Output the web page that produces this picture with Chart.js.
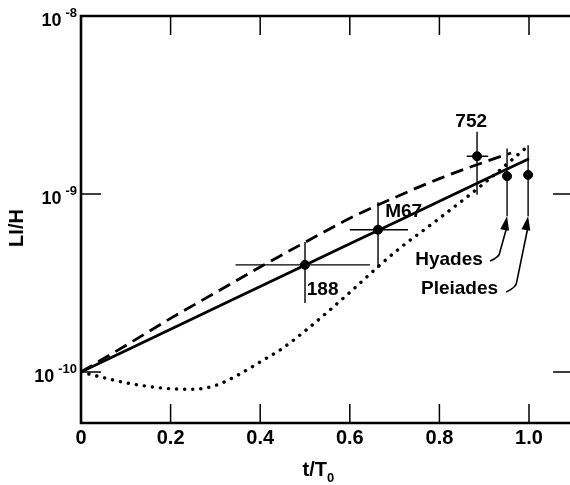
<!DOCTYPE html>
<html>
<head>
<meta charset="utf-8">
<script src="https://cdn.jsdelivr.net/npm/chart.js@4.4.0/dist/chart.umd.min.js"></script>
<style>
  html, body { margin: 0; padding: 0; background: #fff; }
  canvas { display: block; }
</style>
</head>
<body>
<canvas id="chart" width="570" height="485"></canvas>
<script>
// --- model curves (Li/H against t/T0) ---
const solidT = [0, 0.2, 0.4, 0.6, 0.8, 1.0];
const solidLH = [1.0e-10, 1.74e-10, 3.02e-10, 5.25e-10, 9.1e-10, 1.58e-9];

const dashedT = [0, 0.1, 0.2, 0.3, 0.4, 0.5, 0.6, 0.7, 0.8, 0.9, 0.96];
const dashedLH = [1.0e-10, 1.41e-10, 2.0e-10, 2.79e-10, 3.89e-10, 5.35e-10, 7.3e-10, 9.55e-10, 1.22e-9, 1.51e-9, 1.70e-9];

const dottedT = [0, 0.05, 0.1, 0.15, 0.2, 0.25, 0.3, 0.35, 0.4, 0.45, 0.5, 0.55, 0.6, 0.7, 0.8, 0.9, 1.0];
const dottedLH = [1.0e-10, 9.3e-11, 8.7e-11, 8.3e-11, 8.05e-11, 8.0e-11, 8.4e-11, 9.6e-11, 1.14e-10, 1.36e-10, 1.70e-10, 2.17e-10, 2.8e-10, 4.7e-10, 7.3e-10, 1.15e-9, 1.88e-9];

// --- clusters with error bars ---
const clusterNames = ['188', 'M67', '752', 'Hyades', 'Pleiades'];
const clusterT = [0.5, 0.663, 0.884, 0.951, 0.998];
const clusterLH = [4.0e-10, 6.3e-10, 1.63e-9, 1.26e-9, 1.28e-9];
const clusterTLo = [0.345, 0.600, 0.861, null, null];
const clusterTHi = [0.645, 0.730, 0.909, null, null];
const clusterLHLo = [2.44e-10, 3.84e-10, 9.9e-10, 7.5e-10, 7.5e-10];
const clusterLHHi = [5.37e-10, 9.0e-10, 2.24e-9, 1.8e-9, 1.88e-9];

// label anchors (data coords)
const labelT = [0.504, 0.679, 0.871, 0.897, 0.931];
const labelLH = [2.89e-10, 7.9e-10, 2.54e-9, 4.26e-10, 2.92e-10];
const labelAlign = ['left', 'left', 'center', 'right', 'right'];

// arrows for Hyades and Pleiades: tip is the bar bottom, then bend, then hook end
const arrowBendT = [0.935, 0.9725];
const arrowBendLH = [4.42e-10, 3.0e-10];
const arrowEndT = [0.913, 0.949];
const arrowEndLH = [4.2e-10, 2.81e-10];

// --- axes ---
const xTickVals = [0, 0.2, 0.4, 0.6, 0.8, 1.0];
const xTickLabels = ['0', '0.2', '0.4', '0.6', '0.8', '1.0'];
const yTickVals = [1e-8, 1e-9, 1e-10];
const yTickExps = ['-8', '-9', '-10'];

const FONT = '"Liberation Sans", Arial, Helvetica, sans-serif';

const toPts = (xs, ys) => xs.map((x, i) => ({ x: x, y: ys[i] }));

// draws frame, ticks, labels, error bars and arrows
const decorPlugin = {
    id: 'decor',
    beforeDatasetsDraw(chart) {
        const ctx = chart.ctx;
        const xs = chart.scales.x, ys = chart.scales.y;
        ctx.save();
        ctx.strokeStyle = '#000';
        ctx.lineWidth = 1.4;
        ctx.lineCap = 'butt';
        // error bars
        clusterT.forEach((t, i) => {
            const px = xs.getPixelForValue(t);
            const py = ys.getPixelForValue(clusterLH[i]);
            ctx.beginPath();
            ctx.moveTo(px, ys.getPixelForValue(clusterLHHi[i]));
            ctx.lineTo(px, ys.getPixelForValue(clusterLHLo[i]));
            if (clusterTLo[i] !== null) {
                ctx.moveTo(xs.getPixelForValue(clusterTLo[i]), py);
                ctx.lineTo(xs.getPixelForValue(clusterTHi[i]), py);
            }
            ctx.stroke();
        });
        // arrows
        [3, 4].forEach((ci, k) => {
            const tipX = xs.getPixelForValue(clusterT[ci]);
            const tipY = ys.getPixelForValue(clusterLHLo[ci]);
            const bx = xs.getPixelForValue(arrowBendT[k]);
            const by = ys.getPixelForValue(arrowBendLH[k]);
            const ex = xs.getPixelForValue(arrowEndT[k]);
            const ey = ys.getPixelForValue(arrowEndLH[k]);
            ctx.lineWidth = 1.6;
            ctx.beginPath();
            ctx.moveTo(tipX, tipY + 10);
            ctx.lineTo(bx, by - 5);
            ctx.quadraticCurveTo(bx, by, ex, ey);
            ctx.stroke();
            // head
            const ang = Math.atan2(tipY - by, tipX - bx);
            const len = 14, hw = 4.5;
            ctx.beginPath();
            ctx.moveTo(tipX, tipY);
            ctx.lineTo(tipX - len * Math.cos(ang) + hw * Math.sin(ang), tipY - len * Math.sin(ang) - hw * Math.cos(ang));
            ctx.lineTo(tipX - len * Math.cos(ang) - hw * Math.sin(ang), tipY - len * Math.sin(ang) + hw * Math.cos(ang));
            ctx.closePath();
            ctx.fillStyle = '#000';
            ctx.fill();
        });
        ctx.restore();
    },
    afterDraw(chart) {
        const ctx = chart.ctx;
        const area = chart.chartArea;
        const xs = chart.scales.x, ys = chart.scales.y;
        ctx.save();
        ctx.strokeStyle = '#000';
        ctx.fillStyle = '#000';

        // frame: left, bottom, top
        ctx.lineWidth = 2.6;
        ctx.beginPath();
        ctx.moveTo(area.right, area.top);
        ctx.lineTo(area.left, area.top);
        ctx.lineTo(area.left, area.bottom);
        ctx.lineTo(area.right, area.bottom);
        ctx.stroke();

        // inward ticks
        ctx.lineWidth = 1.5;
        ctx.beginPath();
        xTickVals.forEach(v => {
            if (v === 0) return;
            const px = xs.getPixelForValue(v);
            ctx.moveTo(px, area.bottom);
            ctx.lineTo(px, area.bottom - 19);
            ctx.moveTo(px, area.top);
            ctx.lineTo(px, area.top + 19);
        });
        yTickVals.forEach(v => {
            if (v === 1e-8) return;
            const py = ys.getPixelForValue(v);
            ctx.moveTo(area.left, py);
            ctx.lineTo(area.left + 20, py);
            ctx.moveTo(area.right, py);
            ctx.lineTo(area.right - 17, py);
        });
        ctx.stroke();

        // x tick labels
        ctx.font = 'bold 20px ' + FONT;
        ctx.textAlign = 'center';
        ctx.textBaseline = 'middle';
        xTickVals.forEach((v, i) => {
            ctx.fillText(xTickLabels[i], xs.getPixelForValue(v), 438);
        });

        // y tick labels, 10 with superscript exponent
        yTickVals.forEach((v, i) => {
            const py = ys.getPixelForValue(v);
            ctx.font = 'bold 13px ' + FONT;
            const supW = ctx.measureText(yTickExps[i]).width;
            const supX = 77 - supW;
            ctx.textAlign = 'left';
            ctx.fillText(yTickExps[i], supX, py - 3);
            ctx.font = 'bold 18px ' + FONT;
            ctx.textAlign = 'right';
            ctx.fillText('10', supX - 4, py + 5);
        });

        // axis titles
        ctx.font = 'bold 20px ' + FONT;
        ctx.textAlign = 'center';
        ctx.save();
        ctx.translate(17, 228);
        ctx.rotate(-Math.PI / 2);
        ctx.fillText('LI/H', 0, 0);
        ctx.restore();

        ctx.textAlign = 'right';
        ctx.fillText('t/T', 327, 470);
        ctx.font = 'bold 13px ' + FONT;
        ctx.textAlign = 'left';
        ctx.fillText('0', 327, 478);

        // cluster labels
        ctx.font = 'bold 19px ' + FONT;
        clusterNames.forEach((name, i) => {
            ctx.textAlign = labelAlign[i];
            ctx.fillText(name, xs.getPixelForValue(labelT[i]), ys.getPixelForValue(labelLH[i]));
        });
        ctx.restore();
    }
};

const ctx = document.getElementById('chart').getContext('2d');
new Chart(ctx, {
    type: 'scatter',
    data: {
        datasets: [
            {
                label: 'solid',
                data: toPts(solidT, solidLH),
                showLine: true,
                borderColor: '#000',
                borderWidth: 2.8,
                pointRadius: 0,
                cubicInterpolationMode: 'monotone'
            },
            {
                label: 'dashed',
                data: toPts(dashedT, dashedLH),
                showLine: true,
                borderColor: '#000',
                borderWidth: 2.8,
                borderDash: [13, 7],
                pointRadius: 0,
                cubicInterpolationMode: 'monotone'
            },
            {
                label: 'dotted',
                data: toPts(dottedT, dottedLH),
                showLine: true,
                borderColor: '#000',
                borderWidth: 3.4,
                borderDash: [0.1, 8],
                borderCapStyle: 'round',
                pointRadius: 0,
                cubicInterpolationMode: 'monotone'
            },
            {
                label: 'clusters',
                data: toPts(clusterT, clusterLH),
                showLine: false,
                backgroundColor: '#000',
                borderColor: '#000',
                pointRadius: 4.5,
                pointHoverRadius: 4.5
            }
        ]
    },
    options: {
        responsive: false,
        animation: false,
        events: [],
        layout: { autoPadding: false, padding: { top: 16, right: 0, left: 0, bottom: 0 } },
        plugins: {
            legend: { display: false },
            tooltip: { enabled: false }
        },
        scales: {
            x: {
                type: 'linear',
                min: 0,
                max: 1.0915,
                ticks: { display: false },
                grid: { display: false },
                border: { display: false },
                afterFit(scale) {
                    scale.height = 62;
                    scale.paddingLeft = 0;
                    scale.paddingRight = 0;
                }
            },
            y: {
                type: 'logarithmic',
                min: 5.17e-11,
                max: 1e-8,
                ticks: { display: false },
                grid: { display: false },
                border: { display: false },
                afterFit(scale) {
                    scale.width = 81;
                    scale.paddingTop = 0;
                    scale.paddingBottom = 0;
                }
            }
        }
    },
    plugins: [decorPlugin]
});
</script>
</body>
</html>
